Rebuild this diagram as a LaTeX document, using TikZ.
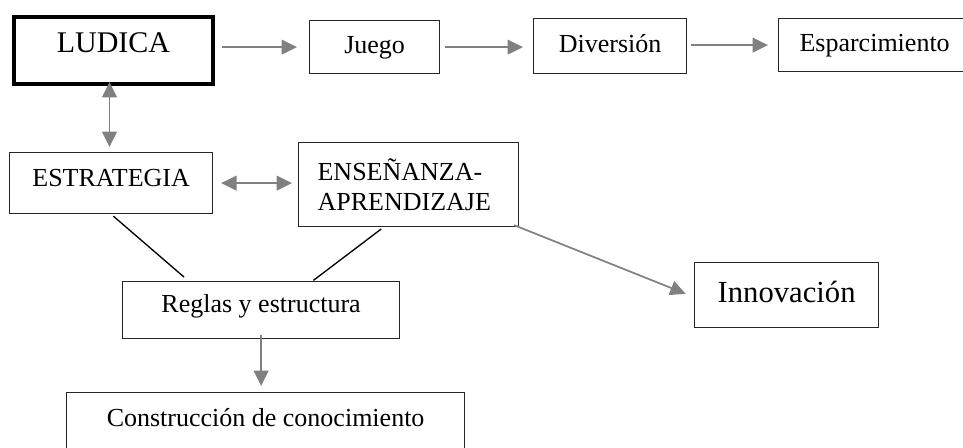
\documentclass[tikz,border=0pt]{standalone}
\usepackage{fontspec}
\setmainfont{Liberation Serif}
\usetikzlibrary{arrows.meta}
\definecolor{arrgray}{RGB}{128,128,128}
\tikzset{
  box/.style={draw=black!85, line width=0.9pt, inner sep=0pt, anchor=north west, align=center,
    font=\fontsize{19.5}{22.5}\selectfont},
  garr/.style={draw=arrgray, line width=1.3pt, -{Triangle[length=11.5pt,width=11pt]}},
  gdarr/.style={draw=arrgray, line width=1.3pt, {Triangle[length=11.5pt,width=11pt]}-{Triangle[length=11.5pt,width=11pt]}},
  bline/.style={draw=black, line width=1pt},
}
\begin{document}
\begin{tikzpicture}[x=0.75pt,y=-0.75pt]
\clip (0,0) rectangle (963,448);
% boxes
\node[box, draw=black, line width=3pt, minimum width=149.25pt, text height=27pt, text depth=23.25pt,
  font=\fontsize{22.5}{27}\selectfont] (lud) at (12,15) {LUDICA};
\node[box, minimum width=97.5pt, text height=24.75pt, text depth=15pt] (jue) at (309,20) {Juego};
\node[box, minimum width=114.75pt, text height=25.5pt, text depth=15.75pt] (div) at (533,18) {Diversión};
\node[box, minimum width=144pt, text height=24.75pt, text depth=15pt] (esp) at (778,18) {Esparcimiento};
\node[box, minimum width=152.25pt, text height=25.5pt, text depth=20.25pt] (est) at (9,152) {ESTRATEGIA};
\node[box, align=left, text width=136.5pt, inner xsep=14.25pt, minimum height=63pt] (ens) at (298,142)
  {ENSEÑANZA-\\APRENDIZAJE};
\node[box, minimum width=207.75pt, text height=23.25pt, text depth=19.5pt] (reg) at (122,281) {Reglas y estructura};
\node[box, minimum width=138pt, text height=30pt, text depth=18.75pt,
  font=\fontsize{23}{27}\selectfont] (inn) at (694,262) {Innovación};
\node[box, minimum width=298.5pt, text height=25.5pt, text depth=45pt] (con) at (66,392) {Construcción de conocimiento};
% connectors
\draw[garr, shorten <=5pt, shorten >=9pt] (jue.west -| lud.east) -- (jue.west);
\draw[garr, shorten <=3.75pt, shorten >=7.5pt] (jue.east) -- (jue.east -| div.west);
\draw[garr, shorten <=3pt, shorten >=7.5pt] (esp.west -| div.east) -- (esp.west);
\draw[gdarr, shorten <=-3pt, shorten >=3.75pt] ([xshift=-3pt]lud.south) -- ([xshift=-3pt]lud.south |- est.north);
\draw[gdarr, shorten <=6pt, shorten >=4.5pt] (est.east) -- (est.east -| ens.west);
\draw[bline, shorten <=2.25pt, shorten >=4.5pt] (est.south) -- ([xshift=-54.4pt]reg.north);
\draw[bline, shorten <=2.25pt, shorten >=0.75pt] ([xshift=-18.75pt]ens.south) -- ([xshift=38.6pt]reg.north);
\draw[garr, shorten <=-4pt, shorten >=6.75pt] (ens.south east) -- ([yshift=-1.5pt]inn.west);
\draw[garr, shorten <=-3pt, shorten >=4.5pt] (reg.south) -- (reg.south |- con.north);
\end{tikzpicture}
\end{document}
